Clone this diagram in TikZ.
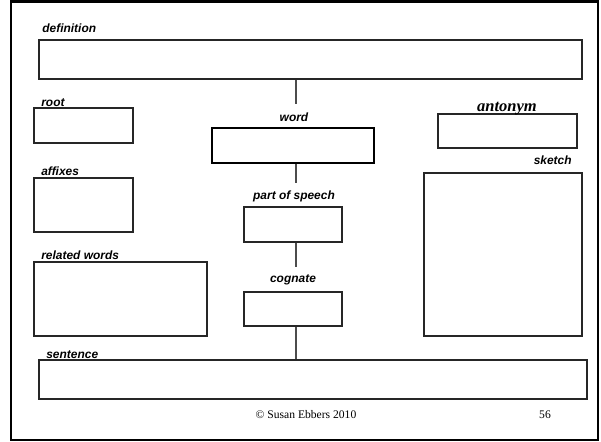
\documentclass[tikz,border=0pt]{standalone}
\usepackage{fontspec}
\setmainfont{Liberation Serif}
\newfontfamily\lblfont{Liberation Sans}
\usetikzlibrary{fit,positioning}

\begin{document}
\begin{tikzpicture}[x=0.02cm,y=-0.02cm,
    box/.style={draw=black!85, line width=0.6pt, inner sep=0pt},
    lbl/.style={font=\lblfont\bfseries\itshape\fontsize{6.8}{8}\selectfont, inner sep=0pt},
    foot/.style={font=\fontsize{6.6}{8}\selectfont, inner sep=0pt}]
      \useasboundingbox (0,0) rectangle (601,442);
      \draw[line width=1.3pt] (11,1.5) rectangle (598,440);
      % boxes
      \node (defn) [box, fit={(39,40) (582,79)}] {};
      \node (root) [box, fit={(34,108) (133,143)}] {};
      \node (word) [box, fit={(212,128) (374,163)}, line width=1.1pt, draw=black] {};
      \node (anton) [box, fit={(438,114) (577,148)}] {};
      \node (affix) [box, fit={(34,178) (133,232)}] {};
      \node (pos) [box, fit={(244,207) (342,242)}] {};
      \node (relw) [box, fit={(34,262) (207,336)}] {};
      \node (cogn) [box, fit={(244,292) (342,326)}] {};
      \node (sketch) [box, fit={(424,173) (582,336)}] {};
      \node (sent) [box, fit={(39,360) (587,399)}] {};
      % labels
      \node (defnlbl) [lbl, anchor=base west] at (42,33) {definition};
      \node (rootlbl) [lbl, anchor=base west] at (41,107) {root};
      \node (wordlbl) [lbl, anchor=base] at (294,122) {word};
      \node (antonlbl) [anchor=base, inner sep=0pt,
        font=\bfseries\itshape\fontsize{9.4}{11}\selectfont] at (507,112) {antonym};
      \node (affixlbl) [lbl, anchor=base west] at (41,175) {affixes};
      \node (poslbl) [lbl, anchor=base] at (294,199) {part of speech};
      \node (relwlbl) [lbl, anchor=base west] at (41,259) {related words};
      \node (cognlbl) [lbl, anchor=base] at (293,282) {cognate};
      \node (sketchlbl) [lbl, anchor=base east] at (572,165) {sketch};
      \node (sentlbl) [lbl, anchor=base west] at (46,358) {sentence};
      % connectors
      \coordinate (e1) at (296,104);
      \coordinate (e2) at (296,183);
      \coordinate (e3) at (296,267);
      \draw[black!70, line width=0.6pt] (e1 |- defn.south) -- (e1);
      \draw[black!70, line width=0.6pt] (e2 |- word.south) -- (e2);
      \draw[black!70, line width=0.6pt] (e3 |- pos.south) -- (e3);
      \draw[black!70, line width=0.6pt] (e3 |- cogn.south) -- (e3 |- sent.north);
      % footer
      \node (copy) [foot, anchor=base] at (306,418) {© Susan Ebbers 2010};
      \node (page) [foot, anchor=base] at (545,418) {56};
    \end{tikzpicture}
\end{document}
